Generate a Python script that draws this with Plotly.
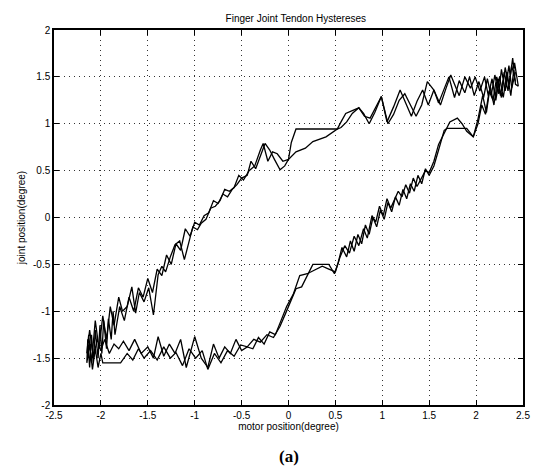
import plotly.graph_objects as go

# Loop A (upper branch right->left, then lower branch left->right)
loop_a_x = [2.42, 2.38, 2.35, 2.31, 2.27, 2.24, 2.20, 2.16, 2.12, 2.08, 2.03, 1.98, 1.93, 1.88, 1.82,
            1.77, 1.71, 1.66, 1.60, 1.55, 1.49, 1.43, 1.37, 1.31, 1.25, 1.19, 1.12, 1.05, 0.99, 0.93,
            0.87, 0.81, 0.75, 0.68, 0.62, 0.56, 0.52, 0.40, 0.28, 0.16, 0.08, 0.03, 0.00, -0.04, -0.09,
            -0.15, -0.20, -0.25, -0.30, -0.35, -0.40, -0.44, -0.50, -0.55, -0.60, -0.65, -0.70, -0.75,
            -0.80, -0.85, -0.90, -0.95, -1.00, -1.05, -1.10, -1.15, -1.20, -1.25, -1.30, -1.35, -1.40,
            -1.45, -1.50, -1.55, -1.60, -1.65, -1.70, -1.75, -1.80, -1.85, -1.87, -1.89, -1.92, -1.94, -1.97, -1.99, -2.01, -2.03,
            -2.06, -2.08, -2.10, -2.12, -2.14, -2.15, -2.12, -2.09, -2.06, -2.03, -2.00, -1.98, -1.79, -1.72, -1.66, -1.60, -1.54,
            -1.47, -1.40, -1.33, -1.26, -1.20, -1.13, -1.06, -0.99, -0.92, -0.86, -0.79, -0.72, -0.65,
            -0.58, -0.51, -0.44, -0.37, -0.30, -0.23, -0.16, -0.09, -0.03, 0.03, 0.08, 0.14, 0.20, 0.26,
            0.43, 0.49, 0.53, 0.57, 0.62, 0.66, 0.70, 0.74, 0.78, 0.82, 0.86, 0.90, 0.94, 0.98, 1.02,
            1.06, 1.10, 1.14, 1.18, 1.22, 1.26, 1.30, 1.34, 1.38, 1.42, 1.46, 1.50, 1.55, 1.60, 1.66,
            1.69, 1.90, 1.97, 2.02, 2.06, 2.10, 2.14, 2.18, 2.22, 2.26, 2.30, 2.34, 2.38, 2.42]
loop_a_y = [1.55, 1.38, 1.62, 1.35, 1.58, 1.32, 1.52, 1.30, 1.48, 1.28, 1.45, 1.30, 1.50, 1.33, 1.46,
            1.28, 1.50, 1.38, 1.22, 1.36, 1.20, 1.36, 1.24, 1.08, 1.22, 1.36, 1.18, 1.02, 1.29, 1.18,
            1.06, 1.08, 1.17, 1.11, 1.02, 0.96, 0.944, 0.944, 0.944, 0.944, 0.944, 0.80, 0.62, 0.55, 0.51,
            0.62, 0.72, 0.79, 0.66, 0.52, 0.60, 0.45, 0.42, 0.35, 0.30, 0.22, 0.25, 0.15,
            0.18, 0.05, 0.02, -0.08, -0.05, -0.20, -0.12, -0.35, -0.28, -0.50, -0.40, -0.62, -0.55,
            -0.80, -0.65, -0.85, -0.75, -1.00, -0.85, -1.10, -0.95, -1.25, -1.00, -1.30, -1.08, -1.40, -1.10, -1.45, -1.15, -1.50,
            -1.20, -1.55, -1.25, -1.60, -1.30, -1.55, -1.35, -1.62, -1.40, -1.60, -1.45, -1.55, -1.55, -1.45, -1.52, -1.40, -1.50,
            -1.42, -1.52, -1.38, -1.50, -1.44, -1.58, -1.40, -1.50, -1.42, -1.62, -1.45, -1.55, -1.42,
            -1.48, -1.36, -1.38, -1.30, -1.33, -1.25, -1.28, -1.16, -1.02, -0.88, -0.76, -0.74, -0.62, -0.50,
            -0.50, -0.60, -0.48, -0.32, -0.42, -0.25, -0.36, -0.18, -0.28, -0.08, -0.18, 0.00, -0.10, 0.08, -0.02,
            0.16, 0.06, 0.22, 0.13, 0.30, 0.20, 0.36, 0.28, 0.45, 0.36, 0.52, 0.45, 0.55, 0.72, 0.93,
            0.95, 0.95, 0.86, 1.00, 1.20, 1.10, 1.35, 1.25, 1.50, 1.30, 1.55, 1.35, 1.62, 1.45]

# Loop B (second cycle)
loop_b_x = [2.45, 2.41, 2.37, 2.33, 2.29, 2.25, 2.21, 2.17, 2.13, 2.09, 2.04, 1.99, 1.94, 1.88, 1.82,
            1.77, 1.73, 1.68, 1.62, 1.55, 1.48, 1.42, 1.36, 1.30, 1.24, 1.18, 1.12, 1.06, 0.99, 0.92,
            0.86, 0.80, 0.75, 0.68, 0.61, 0.56, 0.52, 0.40, 0.26, 0.18, 0.08, 0.00, -0.06, -0.12, -0.17,
            -0.22, -0.27, -0.30, -0.36, -0.42, -0.48, -0.53, -0.58, -0.63, -0.68, -0.73, -0.78, -0.83,
            -0.88, -0.93, -0.97, -1.02, -1.07, -1.11, -1.16, -1.21, -1.26, -1.31, -1.35, -1.39, -1.44,
            -1.49, -1.54, -1.59, -1.63, -1.67, -1.72, -1.77, -1.81, -1.86, -1.90, -1.94, -1.98, -2.02,
            -2.06, -2.10, -2.13, -2.15, -2.12, -2.08, -2.04, -2.00, -1.96, -1.91, -1.86, -1.81, -1.76,
            -1.70, -1.64, -1.57, -1.50, -1.44, -1.39, -1.33, -1.27, -1.21, -1.15, -1.09, -1.00, -0.93,
            -0.86, -0.80, -0.74, -0.68, -0.62, -0.56, -0.50, -0.44, -0.38, -0.32, -0.26, -0.20, -0.14,
            -0.08, -0.02, 0.05, 0.12, 0.20, 0.28, 0.36, 0.43, 0.50, 0.55, 0.60, 0.65, 0.70, 0.75, 0.80,
            0.84, 0.89, 0.93, 0.97, 1.01, 1.05, 1.09, 1.13, 1.17, 1.21, 1.25, 1.29, 1.33, 1.37, 1.41,
            1.46, 1.50, 1.55, 1.60, 1.66, 1.72, 1.80, 1.85, 1.90, 1.97, 2.02, 2.07, 2.11, 2.15, 2.19,
            2.23, 2.27, 2.31, 2.35, 2.39, 2.42, 2.45]
loop_b_y = [1.40, 1.65, 1.30, 1.55, 1.28, 1.50, 1.25, 1.48, 1.30, 1.50, 1.35, 1.50, 1.38, 1.50, 1.30,
            1.42, 1.52, 1.38, 1.20, 1.36, 1.45, 1.20, 1.08, 1.20, 1.32, 1.25, 1.10, 1.00, 1.29, 1.12,
            1.00, 1.11, 1.17, 1.14, 1.11, 1.02, 0.944, 0.86, 0.81, 0.74, 0.70, 0.62, 0.60, 0.68, 0.70,
            0.60, 0.79, 0.72, 0.55, 0.50, 0.40, 0.45, 0.32, 0.28, 0.30, 0.18, 0.12, 0.10,
            -0.02, -0.06, -0.13, -0.10, -0.30, -0.45, -0.25, -0.29, -0.42, -0.58, -0.52, -0.61, -1.04,
            -0.75, -0.90, -0.80, -1.02, -0.74, -0.95, -1.00, -0.85, -1.15, -0.95, -1.30, -1.05, -1.40,
            -1.10, -1.55, -1.25, -1.45, -1.20, -1.50, -1.30, -1.42, -1.30, -1.45, -1.35, -1.40, -1.32,
            -1.42, -1.30, -1.45, -1.38, -1.50, -1.27, -1.48, -1.35, -1.45, -1.30, -1.60, -1.27, -1.50,
            -1.60, -1.35, -1.50, -1.38, -1.45, -1.30, -1.42, -1.38, -1.40, -1.28, -1.35, -1.22, -1.25,
            -1.10, -0.95, -0.82, -0.62, -0.60, -0.56, -0.52, -0.55, -0.58, -0.42, -0.30, -0.38, -0.20, -0.30, -0.12,
            -0.22, 0.02, -0.05, 0.12, 0.02, 0.20, 0.10, 0.19, 0.28, 0.22, 0.35, 0.26, 0.42, 0.33, 0.40,
            0.50, 0.48, 0.60, 0.78, 0.90, 1.02, 1.06, 1.00, 0.92, 0.86, 1.05, 1.30, 1.12, 1.40, 1.20,
            1.48, 1.28, 1.60, 1.40, 1.70, 1.42, 1.40]

tick_vals = [-2.5, -2, -1.5, -1, -0.5, 0, 0.5, 1, 1.5, 2, 2.5]
tick_text = ["-2.5", "-2", "-1.5", "-1", "-0.5", "0", "0.5", "1", "1.5", "2", "2.5"]
ytick_vals = [-2, -1.5, -1, -0.5, 0, 0.5, 1, 1.5, 2]
ytick_text = ["-2", "-1.5", "-1", "-0.5", "0", "0.5", "1", "1.5", "2"]

fig = go.Figure()
for xs, ys in [(loop_a_x, loop_a_y), (loop_b_x, loop_b_y)]:
    fig.add_trace(go.Scatter(x=xs, y=ys, mode="lines",
                             line=dict(color="black", width=1.3), showlegend=False))

FONT = "Liberation Sans, Arial"
axis_common = dict(showline=True, linecolor="black", linewidth=1.5, mirror="ticks",
                   ticks="inside", ticklen=5, tickcolor="black",
                   showgrid=True, gridcolor="#333333", griddash="1px,4px", gridwidth=1,
                   zeroline=False, tickfont=dict(family=FONT, size=10, color="black"))

# page body has an 8px default margin; the figure is sized so the page does not overflow 541x474
fig.update_layout(
    width=533, height=458,
    paper_bgcolor="white", plot_bgcolor="white",
    margin=dict(l=46, r=11, t=22, b=61),
    title=dict(text="Finger Joint Tendon Hystereses", x=0.54, xanchor="center", y=0.978, yanchor="middle",
               font=dict(family=FONT, size=10, color="black")),
    xaxis=dict(range=[-2.5, 2.5], tickvals=tick_vals, ticktext=tick_text,
               title=dict(text="motor position(degree)", standoff=3,
                          font=dict(family=FONT, size=10, color="black")),
               **axis_common),
    yaxis=dict(range=[-2, 2], tickvals=ytick_vals, ticktext=ytick_text,
               title=dict(text="joint position(degree)", standoff=6,
                          font=dict(family=FONT, size=10, color="black")),
               **axis_common),
    annotations=[dict(text="<b>(a)</b>", x=0.5, xref="paper", y=-0.106, yref="paper",
                      xanchor="center", yanchor="top", showarrow=False,
                      font=dict(family="Liberation Serif, Times New Roman", size=17, color="black"))],
)

fig.write_html("out.html", config={"displayModeBar": False})
